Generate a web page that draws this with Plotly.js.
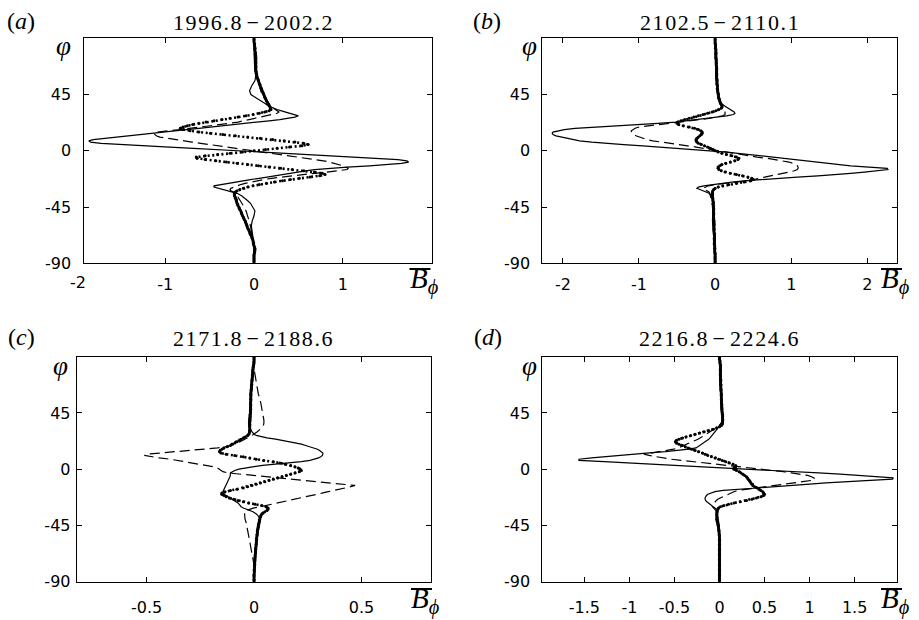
<!DOCTYPE html>
<html>
<head>
<meta charset="utf-8">
<script src="https://cdn.plot.ly/plotly-3.0.1.min.js"></script>
<style>html,body{margin:0;padding:0;background:#fff;}#chart{width:919px;height:620px;}</style>
</head>
<body>
<div id="chart"></div>
<script>
// Latitude grids (degrees)
const latLine = [90,85,80,75,70,65,60,56,52,48,45,42,40,38,36,34,33,32,31,30,29,28,27,26,25,24,23,22,21,20,19,18,17,16,15,14,13,12,11,10,9,8,7,6,5,4,3,2,1,0,-1,-2,-3,-4,-5,-6,-7,-8,-9,-10,-11,-12,-13,-14,-15,-16,-17,-18,-19,-20,-21,-22,-23,-24,-25,-26,-27,-28,-29,-30,-31,-32,-33,-34,-36,-38,-40,-42,-45,-48,-52,-56,-60,-65,-70,-75,-80,-85,-90];
const latDot = [90,89,88,87,86,85,84,83,82,81,80,79,78,77,76,75,74,73,72,71,70,69,68,67,66,65,64,63,62,61,60,59,58,57,56,55,54,53,52,51,50,49,48,47,46,45,44,43,42,41,40,39,38,37,36,35,34,33,32,31,30,29,28,27,26,25,24,23,22,21,20,19,18,17,16,15,14,13,12,11,10,9,8,7,6,5,4,3,2,1,0,-1,-2,-3,-4,-5,-6,-7,-8,-9,-10,-11,-12,-13,-14,-15,-16,-17,-18,-19,-20,-21,-22,-23,-24,-25,-26,-27,-28,-29,-30,-31,-32,-33,-34,-35,-36,-37,-38,-39,-40,-41,-42,-43,-44,-45,-46,-47,-48,-49,-50,-51,-52,-53,-54,-55,-56,-57,-58,-59,-60,-61,-62,-63,-64,-65,-66,-67,-68,-69,-70,-71,-72,-73,-74,-75,-76,-77,-78,-79,-80,-81,-82,-83,-84,-85,-86,-87,-88,-89,-90];

// Panel (a) 1996.8-2002.2
const aSolid = [0,0,0,0,0.005,0.01,0.02,0.01,-0.025,-0.05,-0.035,0.03,0.08,0.12,0.16,0.22,
 0.26,0.31,0.36,0.41,0.47,0.5,0.46,0.38,0.29,0.17,
 0.05,-0.07,-0.2,-0.34,-0.48,-0.62,-0.76,-0.9,-1.05,-1.19,
 -1.33,-1.47,-1.6,-1.72,-1.81,-1.86,-1.84,-1.72,-1.5,-1.22,
 -0.95,-0.68,-0.42,-0.14,0.14,0.42,0.7,0.98,1.24,1.46,
 1.62,1.72,1.74,1.66,1.5,1.3,1.05,0.8,0.68,0.58,
 0.5,0.4,0.32,0.24,0.15,0.06,-0.04,-0.13,-0.22,-0.31,
 -0.4,-0.45,-0.45,-0.4,-0.34,-0.28,-0.23,
 -0.19,-0.14,-0.1,-0.07,-0.04,-0.01,0.01,0,-0.02,-0.03,-0.02,-0.01,0,0,0,0];
const aDashed = [0,0,0,0.005,0.01,0.02,0.03,0.045,0.06,0.075,0.09,0.12,0.14,0.16,0.19,0.22,
 0.24,0.27,0.28,0.26,0.2,0.13,0.06,0,-0.05,-0.1,
 -0.18,-0.28,-0.38,-0.48,-0.58,-0.7,-0.83,-0.97,-1.09,-1.13,
 -1.12,-1.1,-1.06,-0.98,-0.9,-0.8,-0.7,-0.6,-0.5,-0.4,
 -0.3,-0.2,-0.1,0,0.1,0.2,0.31,0.42,0.52,0.62,
 0.7,0.78,0.85,0.91,0.96,1,1.03,1.06,1.05,0.95,
 0.82,0.68,0.55,0.42,0.3,0.2,0.11,0.03,-0.04,-0.1,
 -0.15,-0.19,-0.23,-0.26,-0.27,-0.26,-0.23,
 -0.21,-0.19,-0.17,-0.15,-0.13,-0.11,-0.09,-0.07,-0.055,-0.04,-0.025,-0.015,-0.005,0,0,0];
const aDotted = [0,0,0,0,0.005,0.005,0.005,0.01,0.01,0.01,
 0.01,0.015,0.015,0.015,0.02,0.02,0.02,0.02,0.02,0.02,
 0.02,0.02,0.02,0.02,0.02,0.02,0.02,0.025,0.025,0.03,
 0.03,0.035,0.04,0.045,0.05,0.055,0.06,0.065,0.07,0.075,
 0.08,0.086,0.092,0.098,0.104,0.11,0.116,0.122,0.128,0.134,
 0.14,0.148,0.156,0.164,0.172,0.18,0.187,0.19,0.17,0.12,
 0.06,-0.01,-0.09,-0.18,-0.27,-0.36,-0.45,-0.54,-0.62,-0.69,
 -0.75,-0.8,-0.83,-0.8,-0.72,-0.62,-0.49,-0.35,-0.21,-0.07,
 0.07,0.21,0.34,0.46,0.56,0.61,0.54,0.4,0.26,0.13,
 0,
 -0.13,-0.27,-0.41,-0.55,-0.65,-0.64,-0.55,-0.43,-0.31,-0.19,
 -0.07,0.05,0.17,0.3,0.43,0.56,0.68,0.77,0.8,0.74,
 0.63,0.51,0.41,0.32,0.23,0.14,0.06,-0.01,-0.07,-0.12,
 -0.16,-0.19,-0.21,-0.22,-0.22,-0.22,-0.21,-0.21,-0.2,-0.2,
 -0.195,-0.19,-0.185,-0.18,-0.17,-0.165,-0.16,-0.15,-0.145,-0.14,
 -0.135,-0.13,-0.12,-0.115,-0.11,-0.1,-0.095,-0.09,-0.085,-0.08,
 -0.075,-0.07,-0.06,-0.055,-0.05,-0.045,-0.04,-0.03,-0.025,-0.02,
 -0.015,-0.01,-0.01,-0.005,-0.005,0,0.005,0.01,0.01,0.01,
 0.005,0.005,0,0,0,0,0,0,0,0];

// Panel (b) 2102.5-2110.1
const bSolid = [0,0,0.005,0.005,0.01,0.01,0.015,0.015,0.02,0.025,0.03,0.04,0.06,0.08,0.12,0.17,
 0.2,0.23,0.25,0.26,0.24,0.15,0.02,-0.12,-0.27,-0.4,
 -0.52,-0.75,-1.05,-1.35,-1.6,-1.84,-1.98,-2.08,-2.13,-2.14,
 -2.13,-2.09,-2.02,-1.94,-1.87,-1.78,-1.62,-1.44,-1.2,-0.95,
 -0.7,-0.45,-0.22,0,0.15,0.3,0.45,0.6,0.73,0.9,
 1.06,1.2,1.36,1.5,1.6,1.78,2.02,2.26,2.27,2.14,
 1.96,1.78,1.6,1.35,1.08,0.8,0.58,0.38,0.22,0.08,
 -0.05,-0.15,-0.22,-0.24,-0.2,-0.15,-0.11,
 -0.08,-0.05,-0.03,-0.02,-0.02,-0.025,-0.03,-0.035,-0.035,-0.03,-0.02,-0.01,-0.005,0,0,0];
const bDashed = [0,0,0,0.005,0.005,0.01,0.01,0.015,0.02,0.025,0.03,0.04,0.05,0.065,0.08,0.1,
 0.11,0.12,0.13,0.135,0.13,0.1,0.02,-0.08,-0.2,-0.34,
 -0.5,-0.66,-0.8,-0.92,-1,-1.05,-1.08,-1.1,-1.1,-1.09,
 -1.07,-1.04,-1,-0.96,-0.9,-0.82,-0.72,-0.6,-0.48,-0.36,
 -0.25,-0.15,-0.06,0.02,0.1,0.2,0.3,0.42,0.55,0.68,
 0.8,0.9,0.97,1.02,1.06,1.08,1.09,1.09,1.08,1.04,
 0.97,0.88,0.8,0.72,0.65,0.59,0.52,0.42,0.28,0.12,
 0,-0.09,-0.14,-0.16,-0.14,-0.1,-0.08,
 -0.07,-0.06,-0.05,-0.045,-0.04,-0.035,-0.03,-0.02,-0.015,-0.01,-0.005,0,0,0,0,0];
const bDotted = [0,0,0,0,0,0.005,0.005,0.005,0.005,0.01,
 0.01,0.01,0.01,0.01,0.01,0.01,0.01,0.015,0.015,0.015,
 0.015,0.015,0.015,0.02,0.02,0.02,0.02,0.02,0.02,0.02,
 0.02,0.02,0.02,0.025,0.025,0.025,0.025,0.025,0.03,0.03,
 0.03,0.03,0.035,0.035,0.04,0.04,0.045,0.045,0.05,0.055,
 0.06,0.065,0.07,0.08,0.09,0.09,0.08,0.05,0.01,-0.04,
 -0.1,-0.16,-0.22,-0.28,-0.34,-0.4,-0.45,-0.49,-0.5,-0.48,
 -0.42,-0.34,-0.27,-0.22,-0.19,-0.17,-0.17,-0.18,-0.2,-0.22,
 -0.24,-0.25,-0.25,-0.24,-0.22,-0.18,-0.14,-0.1,-0.06,-0.03,
 0,
 0.04,0.09,0.15,0.22,0.28,0.31,0.3,0.26,0.2,0.14,
 0.09,0.06,0.04,0.04,0.05,0.08,0.13,0.2,0.28,0.36,
 0.43,0.48,0.5,0.47,0.38,0.28,0.18,0.1,0.04,0,
 -0.02,-0.03,-0.035,-0.035,-0.035,-0.035,-0.035,-0.03,-0.03,-0.03,
 -0.025,-0.025,-0.025,-0.02,-0.02,-0.02,-0.02,-0.02,-0.02,-0.02,
 -0.02,-0.02,-0.02,-0.02,-0.02,-0.015,-0.015,-0.015,-0.015,-0.015,
 -0.015,-0.015,-0.015,-0.015,-0.015,-0.01,-0.01,-0.01,-0.01,-0.01,
 -0.01,-0.01,-0.01,-0.01,-0.01,-0.005,-0.005,-0.005,-0.005,-0.005,
 -0.005,0,0,0,0,0,0,0,0,0];

// Panel (c) 2171.8-2188.6
const cSolid = [0,0,-0.002,-0.005,-0.008,-0.01,-0.012,-0.015,-0.018,-0.02,-0.022,-0.024,-0.025,-0.026,-0.026,-0.022,
 -0.02,-0.017,-0.014,-0.01,-0.005,0,0.01,0.03,0.06,0.1,
 0.13,0.17,0.2,0.22,0.24,0.26,0.28,0.295,0.305,0.315,
 0.32,0.32,0.318,0.31,0.3,0.28,0.26,0.22,0.15,0.09,
 0.04,0,-0.04,-0.07,-0.09,-0.1,-0.11,-0.11,-0.11,-0.112,
 -0.115,-0.118,-0.12,-0.123,-0.126,-0.13,-0.133,-0.136,-0.139,-0.142,
 -0.144,-0.145,-0.145,-0.14,-0.13,-0.12,-0.11,-0.1,-0.09,-0.08,
 -0.075,-0.07,-0.065,-0.06,-0.05,-0.035,-0.02,
 -0.005,0.012,0.022,0.027,0.028,0.025,0.02,0.016,0.012,0.008,0.005,0.003,0.001,0,0,0];
const cDashed = [0,0,0,0.005,0.01,0.015,0.02,0.028,0.033,0.037,0.04,0.043,0.045,0.046,0.045,0.04,
 0.035,0.03,0.022,0.015,0.008,0,-0.01,-0.02,-0.03,-0.04,
 -0.05,-0.065,-0.08,-0.095,-0.11,-0.13,-0.17,-0.23,-0.3,-0.37,
 -0.44,-0.5,-0.51,-0.48,-0.44,-0.39,-0.355,-0.32,-0.29,-0.25,
 -0.22,-0.19,-0.17,-0.16,-0.15,-0.145,-0.12,-0.06,0.02,0.07,
 0.13,0.19,0.25,0.31,0.37,0.43,0.47,0.45,0.42,0.395,
 0.37,0.345,0.32,0.295,0.27,0.24,0.21,0.185,0.16,0.135,
 0.11,0.085,0.06,0.03,0,-0.02,-0.035,
 -0.045,-0.045,-0.044,-0.042,-0.038,-0.034,-0.03,-0.026,-0.022,-0.018,-0.012,-0.007,-0.002,0,0,0];
const cDotted = [0,0,0,0,0,0,-0.002,-0.003,-0.004,-0.005,
 -0.005,-0.006,-0.006,-0.007,-0.007,-0.008,-0.008,-0.009,-0.009,-0.01,
 -0.01,-0.011,-0.011,-0.012,-0.012,-0.013,-0.013,-0.014,-0.014,-0.015,
 -0.015,-0.015,-0.015,-0.015,-0.015,-0.015,-0.016,-0.016,-0.016,-0.016,
 -0.016,-0.016,-0.016,-0.017,-0.017,-0.017,-0.018,-0.018,-0.018,-0.019,
 -0.019,-0.019,-0.02,-0.02,-0.02,-0.02,-0.02,-0.02,-0.02,-0.02,
 -0.02,-0.022,-0.025,-0.03,-0.04,-0.05,-0.06,-0.07,-0.08,-0.09,
 -0.1,-0.11,-0.125,-0.14,-0.15,-0.158,-0.16,-0.155,-0.13,-0.09,
 -0.05,-0.02,0.01,0.045,0.09,0.12,0.145,0.17,0.19,0.205,
 0.215,
 0.22,0.21,0.19,0.17,0.15,0.13,0.11,0.09,0.07,0.05,
 0.03,0.01,-0.01,-0.03,-0.05,-0.08,-0.11,-0.135,-0.15,-0.15,
 -0.14,-0.13,-0.115,-0.095,-0.075,-0.05,-0.025,0.005,0.035,0.055,
 0.065,0.065,0.06,0.05,0.04,0.035,0.032,0.03,0.028,0.026,
 0.025,0.024,0.022,0.021,0.02,0.019,0.018,0.017,0.016,0.015,
 0.015,0.014,0.014,0.013,0.012,0.012,0.011,0.011,0.01,0.01,
 0.009,0.009,0.008,0.008,0.007,0.007,0.006,0.006,0.005,0.005,
 0.004,0.004,0.004,0.003,0.003,0.003,0.002,0.002,0.002,0.001,
 0.001,0.001,0.001,0,0,0,0,0,0,0];

// Panel (d) 2216.8-2224.6
const dSolid = [0,0,0,0.005,0.005,0.01,0.01,0.015,0.018,0.022,0.028,0.033,0.035,0.028,0.012,-0.008,
 -0.018,-0.028,-0.038,-0.048,-0.057,-0.066,-0.077,-0.09,-0.105,-0.12,
 -0.14,-0.16,-0.18,-0.2,-0.22,-0.24,-0.26,-0.34,-0.46,-0.6,
 -0.78,-0.96,-1.12,-1.26,-1.42,-1.56,-1.56,-1.28,-1,-0.73,
 -0.46,-0.16,0.14,0.38,0.62,0.87,1.1,1.34,1.56,1.76,
 1.93,1.92,1.62,1.36,1.18,1,0.8,0.58,0.38,0.2,
 0.04,-0.05,-0.1,-0.13,-0.145,-0.155,-0.16,-0.16,-0.155,-0.14,
 -0.125,-0.11,-0.09,-0.07,-0.05,-0.03,-0.02,
 -0.018,-0.026,-0.036,-0.042,-0.035,-0.015,-0.005,0,0.003,0.005,0.005,0.003,0,0,0,0];
const dDashed = [0,0,0,0.005,0.005,0.01,0.01,0.015,0.018,0.022,0.028,0.033,0.035,0.03,0.015,-0.015,
 -0.04,-0.065,-0.09,-0.11,-0.13,-0.15,-0.17,-0.19,-0.215,-0.24,
 -0.27,-0.3,-0.325,-0.35,-0.38,-0.42,-0.46,-0.51,-0.6,-0.7,
 -0.8,-0.84,-0.78,-0.7,-0.62,-0.54,-0.41,-0.28,-0.13,-0.02,
 0.1,0.25,0.38,0.5,0.62,0.71,0.8,0.9,0.98,1.02,
 1.05,1.06,1.02,0.92,0.81,0.7,0.58,0.47,0.38,0.26,
 0.2,0.16,0.13,0.09,0.06,0.03,0.005,-0.02,-0.035,-0.05,
 -0.06,-0.07,-0.075,-0.08,-0.065,-0.05,-0.04,
 -0.03,-0.02,-0.015,-0.01,-0.008,-0.005,0,0,0,0,0,0,0,0,0,0];
const dDotted = [0,0,0,0.005,0.005,0.005,0.01,0.01,0.01,0.01,
 0.01,0.01,0.01,0.01,0.01,0.01,0.012,0.012,0.012,0.013,
 0.013,0.013,0.014,0.014,0.015,0.015,0.016,0.017,0.018,0.019,
 0.02,0.02,0.02,0.021,0.021,0.022,0.022,0.023,0.024,0.025,
 0.025,0.026,0.026,0.027,0.028,0.03,0.032,0.034,0.035,0.035,
 0.035,0.035,0.035,0.033,0.03,0.02,0,-0.03,-0.07,-0.12,
 -0.17,-0.22,-0.27,-0.32,-0.37,-0.41,-0.45,-0.48,-0.49,-0.48,
 -0.45,-0.41,-0.38,-0.35,-0.31,-0.27,-0.23,-0.19,-0.16,-0.13,
 -0.09,-0.05,-0.01,0.03,0.07,0.11,0.15,0.18,0.18,0.16,
 0.16,
 0.19,0.22,0.24,0.26,0.28,0.3,0.31,0.32,0.33,0.34,
 0.35,0.36,0.37,0.39,0.42,0.44,0.46,0.48,0.49,0.5,
 0.49,0.46,0.41,0.36,0.3,0.23,0.16,0.1,0.05,0.01,
 -0.01,-0.02,-0.025,-0.028,-0.03,-0.03,-0.03,-0.028,-0.026,-0.025,
 -0.023,-0.021,-0.019,-0.017,-0.015,-0.013,-0.011,-0.009,-0.007,-0.005,
 -0.004,-0.003,-0.002,-0.001,0,0,0,0,0,0,
 0,0,0,0,0,0,0,0,0,0,
 0,0,0,0,0,0,0,0,0,0,
 0,0,0,0,0,0,0,0,0,0];

// Titles, labels and ticks
const panelTitles = ['1996.8\u200A\u2212\u200A2002.2','2102.5\u200A\u2212\u200A2110.1','2171.8\u200A\u2212\u200A2188.6','2216.8\u200A\u2212\u200A2224.6'];
const panelLetters = ['a','b','c','d'];
const yTickVals = [-90,-45,0,45];
const yTickText = ['-90','-45','0','45'];
const xTickValsA = [-1,0,1], xTickTextA = ['-1','0','1'];
const xExtraLabelA = '-2';
const xTickValsB = [-2,-1,0,1,2], xTickTextB = ['-2','-1','0','1','2'];
const xTickValsC = [-0.5,0,0.5], xTickTextC = ['-0.5','0','0.5'];
const xTickValsD = [-1.5,-1,-0.5,0,0.5,1,1.5], xTickTextD = ['-1.5','-1','-0.5','0','0.5','1','1.5'];

const panels = [
  {solid:aSolid, dashed:aDashed, dotted:aDotted, xa:'x', ya:'y'},
  {solid:bSolid, dashed:bDashed, dotted:bDotted, xa:'x2', ya:'y2'},
  {solid:cSolid, dashed:cDashed, dotted:cDotted, xa:'x3', ya:'y3'},
  {solid:dSolid, dashed:dDashed, dotted:dDotted, xa:'x4', ya:'y4'}
];

const traces = [];
panels.forEach(p => {
  traces.push({x:p.solid, y:latLine, xaxis:p.xa, yaxis:p.ya, type:'scatter', mode:'lines',
    line:{color:'#000', width:1.2}, hoverinfo:'skip'});
  traces.push({x:p.dashed, y:latLine, xaxis:p.xa, yaxis:p.ya, type:'scatter', mode:'lines',
    line:{color:'#000', width:1.2, dash:'10px,5px'}, hoverinfo:'skip'});
  traces.push({x:p.dotted, y:latDot, xaxis:p.xa, yaxis:p.ya, type:'scatter', mode:'lines+markers',
    line:{color:'#000', width:2.6, dash:'2px,2.6px'},
    marker:{color:'#000', size:3}, hoverinfo:'skip'});
});

const W = 919, H = 620;
function axBase(extra){
  return Object.assign({
    showline:true, linecolor:'#000', linewidth:1, mirror:'ticks',
    ticks:'inside', ticklen:5, tickwidth:1, tickcolor:'#000',
    showgrid:false, zeroline:false, fixedrange:true,
    tickfont:{family:'DejaVu Sans', size:16, color:'#000'}
  }, extra);
}
const dom = {
  a:{x:[84.3/W, 431.7/W], y:[1-263.3/H, 1-38.3/H]},
  b:{x:[542.3/W, 896.7/W], y:[1-263.3/H, 1-38.3/H]},
  c:{x:[76.7/W, 431/W], y:[1-581.7/H, 1-356.7/H]},
  d:{x:[542.3/W, 896.7/W], y:[1-581.7/H, 1-356.7/H]}
};
const yCommon = {range:[-90,90], tickmode:'array', tickvals:yTickVals, ticktext:yTickText};

const layout = {
  width:W, height:H, margin:{l:0,r:0,t:0,b:0}, showlegend:false,
  paper_bgcolor:'#fff', plot_bgcolor:'#fff',
  xaxis: axBase({domain:dom.a.x, anchor:'y', range:[-1.91,2.0], tickmode:'array', tickvals:xTickValsA, ticktext:xTickTextA, ticklabelstandoff:6}),
  yaxis: axBase(Object.assign({domain:dom.a.y, anchor:'x', ticklabelstandoff:9}, yCommon)),
  xaxis2: axBase({domain:dom.b.x, anchor:'y2', range:[-2.27,2.385], tickmode:'array', tickvals:xTickValsB, ticktext:xTickTextB, ticklabelstandoff:6}),
  yaxis2: axBase(Object.assign({domain:dom.b.y, anchor:'x2', ticklabelstandoff:8}, yCommon)),
  xaxis3: axBase({domain:dom.c.x, anchor:'y3', range:[-0.825,0.823], tickmode:'array', tickvals:xTickValsC, ticktext:xTickTextC, ticklabelstandoff:11}),
  yaxis3: axBase(Object.assign({domain:dom.c.y, anchor:'x3', ticklabelstandoff:2}, yCommon)),
  xaxis4: axBase({domain:dom.d.x, anchor:'y4', range:[-1.967,1.967], tickmode:'array', tickvals:xTickValsD, ticktext:xTickTextD, ticklabelstandoff:11}),
  yaxis4: axBase(Object.assign({domain:dom.d.y, anchor:'x4', ticklabelstandoff:8}, yCommon)),
  annotations: [],
  shapes: []
};

const serif = 'Liberation Serif, Times New Roman, serif';
const titlePos = [[253,22],[719.7,22],[253,338],[719.8,338]];
const letterPos = [[20.5,21],[487,21],[21.7,337],[488,337]];
const phiPos = [[63,46],[529,46],[60,366],[529,366]];
const bPos = [[424,280.5],[895.5,280.5],[425.5,600.5],[895.5,600.5]];
const barPos = [[409.5,430.5,269],[881,902,269],[411,432,589],[881,902,589]];
for (let i=0;i<4;i++){
  layout.annotations.push({xref:'paper', yref:'paper', x:titlePos[i][0]/W, y:1-titlePos[i][1]/H,
    xanchor:'center', yanchor:'middle', showarrow:false,
    text:'<span style="letter-spacing:1.6px">'+panelTitles[i]+'</span>',
    font:{family:serif, size:22, color:'#000'}});
  layout.annotations.push({xref:'paper', yref:'paper', x:letterPos[i][0]/W, y:1-letterPos[i][1]/H,
    xanchor:'center', yanchor:'middle', showarrow:false, text:'(<i>'+panelLetters[i]+'</i>)',
    font:{family:serif, size:24, color:'#000'}});
  layout.annotations.push({xref:'paper', yref:'paper', x:phiPos[i][0]/W, y:1-phiPos[i][1]/H,
    xanchor:'center', yanchor:'middle', showarrow:false, text:'<i>\u03C6</i>',
    font:{family:serif, size:27, color:'#000'}});
  layout.annotations.push({xref:'paper', yref:'paper', x:bPos[i][0]/W, y:1-bPos[i][1]/H,
    xanchor:'center', yanchor:'middle', showarrow:false,
    text:'<i>B</i><sub><i>\u03D5</i></sub>',
    font:{family:serif, size:29, color:'#000'}});
  // overbar of the mean-field symbol
  layout.shapes.push({type:'line', xref:'paper', yref:'paper',
    x0:barPos[i][0]/W, x1:barPos[i][1]/W, y0:1-barPos[i][2]/H, y1:1-barPos[i][2]/H,
    line:{color:'#000', width:2}});
}
layout.annotations.push({xref:'paper', yref:'paper', x:78.3/W, y:1-282/H, xanchor:'center', yanchor:'middle',
  showarrow:false, text:xExtraLabelA, font:{family:'DejaVu Sans', size:16, color:'#000'}});

Plotly.newPlot('chart', traces, layout, {staticPlot:true, displayModeBar:false});
</script>
</body>
</html>
